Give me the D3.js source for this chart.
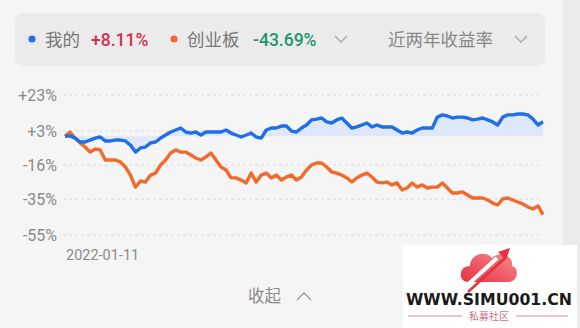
<!DOCTYPE html>
<html>
<head>
<meta charset="utf-8">
<script src="https://cdn.jsdelivr.net/npm/d3@7/dist/d3.min.js"></script>
<style>
  html, body { margin: 0; padding: 0; background: #f5f5f5; }
  svg { display: block; font-family: Roboto, "Noto Sans CJK SC", sans-serif; }
</style>
</head>
<body>
<script>
var width = 580,
    height = 328;

// y-axis ticks (percent)
var tickValues = [23, 3, -16, -35, -55];
var dateLabels = ["2022-01-11"];

// 我的 (return %, sampled evenly over the two years)
var mine = [0, 0.2, -1.0, -3.2, -3.2, -2.1, -1.0, -0.4, -2.6, -2.6,
  -2.1, -2.1, -2.6, -4.9, -8.8, -6.5, -6.0, -3.7, -3.2, -1.0,
  0.7, 2.4, 3.5, 4.6, 2.4, 1.8, 2.4, 0.7, 2.4, 2.4,
  2.4, 2.4, 3.5, 1.8, 0.7, -0.4, 0.7, 1.8, -0.4, -1.0,
  3.5, 4.6, 4.6, 5.7, 5.7, 2.9, 2.4, 4.6, 6.3, 9.1,
  9.6, 10.2, 8.0, 7.4, 9.1, 10.2, 7.4, 4.6, 5.2, 6.3,
  7.4, 5.2, 6.3, 5.2, 5.2, 5.2, 3.5, 1.8, 2.4, 1.8,
  3.5, 4.6, 4.6, 4.6, 10.7, 11.9, 11.3, 10.2, 10.7, 10.7,
  10.2, 9.1, 9.6, 10.2, 9.1, 8.0, 6.3, 10.7, 11.9, 11.9,
  12.4, 12.4, 11.9, 9.6, 6.3, 8.11];

// 创业板 (return %)
var gem = [0, 2.4, -1.0, -3.7, -6.0, -8.8, -7.1, -7.6, -13.2, -13.2,
  -13.2, -14.3, -17.1, -21.6, -28.3, -24.9, -25.5, -21.6, -20.5, -16.0,
  -13.2, -9.3, -7.6, -8.8, -8.8, -10.4, -12.1, -13.2, -11.5, -9.3,
  -13.2, -17.1, -18.8, -23.2, -23.2, -24.4, -26.0, -20.5, -25.5, -21.6,
  -20.5, -23.2, -21.6, -24.4, -22.7, -21.6, -24.4, -22.7, -18.8, -16.0,
  -14.9, -14.9, -17.1, -19.9, -20.5, -21.6, -23.2, -25.5, -23.2, -21.6,
  -20.5, -22.7, -25.5, -26.0, -25.5, -27.1, -26.0, -29.9, -28.8, -26.0,
  -28.3, -27.1, -28.8, -28.3, -28.3, -26.0, -28.8, -31.6, -31.6, -31.0,
  -32.7, -34.4, -34.4, -34.4, -35.5, -37.2, -38.3, -34.9, -34.4, -35.5,
  -36.6, -37.7, -39.4, -40.5, -38.8, -43.69];

var svg = d3.select("body").append("svg")
  .attr("width", width)
  .attr("height", height);

svg.append("rect")
  .attr("width", width).attr("height", height)
  .attr("fill", "#f5f5f5");

// right edge strip
svg.append("rect")
  .attr("x", 563).attr("y", 0)
  .attr("width", 17).attr("height", height)
  .attr("fill", "#ebebeb");

// ---- header / legend ----
var head = svg.append("g");
head.append("rect")
  .attr("x", 15).attr("y", 13)
  .attr("width", 530).attr("height", 53)
  .attr("rx", 8)
  .attr("fill", "#ebebeb");

head.append("circle").attr("cx", 32).attr("cy", 39).attr("r", 3.6).attr("fill", "#2270e8");
head.append("text").attr("x", 45).attr("y", 46).text("我的")
  .attr("font-size", 17.5).attr("fill", "#777");
head.append("text").attr("x", 91).attr("y", 46).text("+8.11%")
  .attr("font-size", 17.5).attr("font-weight", 500).attr("fill", "#d2304a");

head.append("circle").attr("cx", 174).attr("cy", 39).attr("r", 3.6).attr("fill", "#f06a2d");
head.append("text").attr("x", 187).attr("y", 46).text("创业板")
  .attr("font-size", 17.5).attr("fill", "#777");
head.append("text").attr("x", 253).attr("y", 46).text("-43.69%")
  .attr("font-size", 17.5).attr("font-weight", 500).attr("fill", "#1c9670");

head.append("path").attr("d", "M335,36 L341,42 L347,36")
  .attr("fill", "none").attr("stroke", "#a8a8a8").attr("stroke-width", 1.3);

head.append("text").attr("x", 388).attr("y", 46).text("近两年收益率")
  .attr("font-size", 17.5).attr("fill", "#888");
head.append("path").attr("d", "M515,36 L521,42 L527,36")
  .attr("fill", "none").attr("stroke", "#a8a8a8").attr("stroke-width", 1.3);

// ---- chart ----
var x = d3.scaleLinear()
  .domain([0, mine.length - 1])
  .range([65, 543]);

var y = d3.scaleLinear()
  .domain([23, -55])
  .range([95, 235]);

var grid = svg.append("g");
grid.selectAll("line")
  .data(tickValues)
  .enter().append("line")
  .attr("x1", 63).attr("x2", 543)
  .attr("y1", function(d) { return y(d); })
  .attr("y2", function(d) { return y(d); })
  .attr("stroke", "#dcdcdc")
  .attr("stroke-dasharray", "3,3");

var yAxis = d3.axisLeft(y)
  .tickValues(tickValues)
  .tickSize(0)
  .tickPadding(0)
  .tickFormat(function(d) { return (d > 0 ? "+" : "") + d + "%"; });

var yg = svg.append("g")
  .attr("transform", "translate(57,0)")
  .call(yAxis);
yg.select(".domain").remove();
yg.selectAll("text")
  .attr("font-size", 16)
  .attr("fill", "#8a8a8a")
  .attr("font-family", "Roboto, sans-serif");

svg.selectAll(".date")
  .data(dateLabels)
  .enter().append("text")
  .attr("class", "date")
  .attr("x", 66).attr("y", 260)
  .attr("font-size", 14.5)
  .attr("fill", "#8a8a8a")
  .text(function(d) { return d; });

var area = d3.area()
  .x(function(d, i) { return x(i); })
  .y0(y(0))
  .y1(function(d) { return y(d); });

svg.append("path")
  .datum(mine)
  .attr("d", area)
  .attr("fill", "#d9e5fa")
  .attr("opacity", 0.85);

var line = d3.line()
  .x(function(d, i) { return x(i); })
  .y(function(d) { return y(d); });

svg.append("path")
  .datum(gem)
  .attr("d", line)
  .attr("fill", "none")
  .attr("stroke", "#f26a2b")
  .attr("stroke-width", 3.4)
  .attr("stroke-linejoin", "round");

svg.append("path")
  .datum(mine)
  .attr("d", line)
  .attr("fill", "none")
  .attr("stroke", "#1f6fe8")
  .attr("stroke-width", 3.4)
  .attr("stroke-linejoin", "round");

// collapse button
svg.append("text")
  .attr("x", 248).attr("y", 302)
  .attr("font-size", 16.5)
  .attr("fill", "#8a8a8a")
  .text("收起");
svg.append("path").attr("d", "M297,300 L304,293 L311,300")
  .attr("fill", "none").attr("stroke", "#9a9a9a").attr("stroke-width", 1.3);

// ---- watermark ----
var wm = svg.append("g");
wm.append("rect")
  .attr("x", 403).attr("y", 245)
  .attr("width", 174).attr("height", 83)
  .attr("fill", "#ffffff");

var grad = svg.append("defs").append("linearGradient")
  .attr("id", "wmgrad")
  .attr("x1", 0).attr("y1", 1).attr("x2", 1).attr("y2", 0);
grad.append("stop").attr("offset", "0%").attr("stop-color", "#e8303f");
grad.append("stop").attr("offset", "100%").attr("stop-color", "#f58a8e");

wm.append("path")
  .attr("d", "M468,282 C458,282 458,266 470,266 C470,254 486,250 492,258 C500,250 514,256 512,266 C520,268 518,282 508,282 Z")
  .attr("fill", "url(#wmgrad)");
wm.append("path")
  .attr("d", "M462,290 L497,258")
  .attr("stroke", "#ffffff").attr("stroke-width", 4);
wm.append("path")
  .attr("d", "M468,292 L505,258")
  .attr("stroke", "#e8303f").attr("stroke-width", 2.5);
wm.append("path")
  .attr("d", "M498,252 L510,248 L506,260 Z")
  .attr("fill", "#e8303f");

wm.append("text")
  .attr("x", 489).attr("y", 305)
  .attr("text-anchor", "middle")
  .attr("font-size", 16.5)
  .attr("font-weight", 700)
  .attr("font-family", "'DejaVu Sans', sans-serif")
  .attr("textLength", 166)
  .attr("lengthAdjust", "spacingAndGlyphs")
  .attr("fill", "#1a1a1a")
  .text("WWW.SIMU001.CN");

wm.append("line").attr("x1", 408).attr("x2", 462).attr("y1", 316).attr("y2", 316)
  .attr("stroke", "#d98a95").attr("stroke-width", 1);
wm.append("line").attr("x1", 516).attr("x2", 568).attr("y1", 316).attr("y2", 316)
  .attr("stroke", "#d98a95").attr("stroke-width", 1);
wm.append("text")
  .attr("x", 489).attr("y", 320)
  .attr("text-anchor", "middle")
  .attr("font-size", 10)
  .attr("fill", "#d4707f")
  .text("私募社区");
</script>
</body>
</html>
